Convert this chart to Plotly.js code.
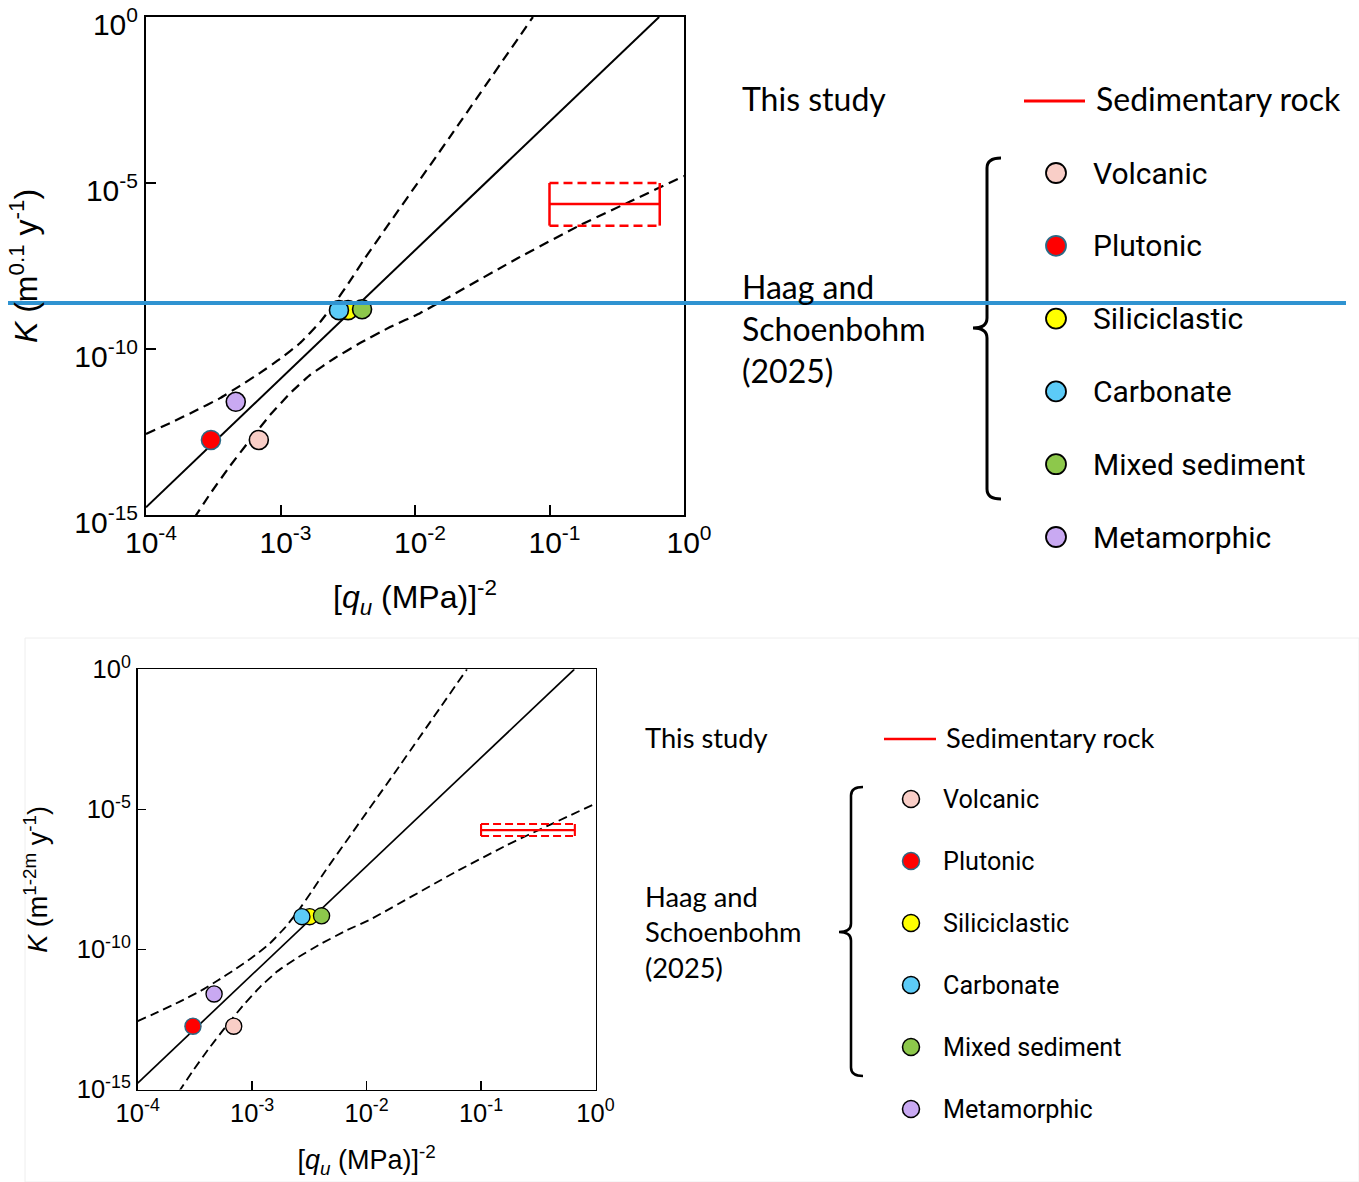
<!DOCTYPE html>
<html><head><meta charset="utf-8">
<script src="https://cdn.plot.ly/plotly-3.0.1.min.js"></script>
<style>html,body{margin:0;padding:0;background:#fff}</style>
</head><body><div id="chart" style="width:1359px;height:1182px"></div>
<script>
// ---------- data ----------
const rockTypes  = ['Volcanic','Plutonic','Siliciclastic','Carbonate','Mixed sediment','Metamorphic'];
const rockColors = ['#f9cec7','#ff0000','#ffff00','#5ccbf7','#8dc84b','#c9a9f2'];
const rockEdges  = ['#000000','#2b6a86','#000000','#000000','#000000','#000000'];
const quInvSq    = [6.9e-4, 3.04e-4, 3.18e-3, 2.72e-3, 4.04e-3, 4.65e-4];
const kValues    = [1.82e-13, 1.82e-13, 1.48e-9, 1.48e-9, 1.58e-9, 2.57e-12];

// regression line and its dashed confidence band
const fitX = [1e-4, 0.653];
const fitK = [1.7e-15, 1];
const upperX = [1e-4, 1.51e-4, 2.31e-4, 3.55e-4, 5.0e-4, 7.05e-4, 9.91e-4, 1.40e-3, 1.97e-3, 2.54e-3, 3.29e-3, 4.25e-3, 1.82e-2, 7.53e-2];
const upperK = [2.75e-13, 5.89e-13, 1.35e-12, 3.31e-12, 7.76e-12, 1.91e-11, 5.01e-11, 1.51e-10, 6.46e-10, 2.45e-9, 1.12e-8, 5.50e-8, 2.45e-4, 1];
const lowerX = [2.28e-4, 2.99e-4, 4.22e-4, 5.93e-4, 8.36e-4, 1.18e-3, 1.66e-3, 2.54e-3, 3.90e-3, 6.52e-3, 1.09e-2, 5.83e-2, 0.169, 0.377, 1.0];
const lowerK = [8.1e-16, 4.27e-15, 3.02e-14, 1.82e-13, 1.02e-12, 4.68e-12, 1.66e-11, 5.37e-11, 1.51e-10, 4.57e-10, 1.20e-9, 5.50e-8, 5.37e-7, 2.51e-6, 1.62e-5];

// This study – sedimentary rock range (top panel / bottom panel)
const boxX = [0.1, 0.66];
const boxTopMid = 2.34e-6, boxTopHi = 1.0e-5, boxTopLo = 5.2e-7;
const boxBotMid = 1.82e-6, boxBotHi = 3.0e-6, boxBotLo = 1.12e-6;

const xTickVals = [1e-4, 1e-3, 1e-2, 1e-1, 1];
const xTickText = ['10<sup>-4</sup>','10<sup>-3</sup>','10<sup>-2</sup>','10<sup>-1</sup>','10<sup>0</sup>'];
const yTickVals = [1e-15, 1e-10, 1e-5, 1];
const yTickText = ['10<sup>-15</sup>','10<sup>-10</sup>','10<sup>-5</sup>','10<sup>0</sup>'];

// ---------- helpers ----------
const W = 1359, H = 1182;
const px = x => x / W;
const py = y => 1 - y / H;
const P = (x, y) => px(x).toFixed(5) + ',' + py(y).toFixed(5);

function panelTraces(xa, ya, s, hi, mid, lo) {
  const tr = [];
  const dash = (Math.round(10*s)) + 'px,' + (Math.round(6*s)) + 'px';
  tr.push({x: upperX, y: upperK, xaxis: xa, yaxis: ya, mode: 'lines', line: {color: '#000', width: 2.2*s, dash: dash, shape: 'spline', smoothing: 0.3}, hoverinfo: 'skip'});
  tr.push({x: lowerX, y: lowerK, xaxis: xa, yaxis: ya, mode: 'lines', line: {color: '#000', width: 2.2*s, dash: dash, shape: 'spline', smoothing: 0.3}, hoverinfo: 'skip'});
  tr.push({x: fitX, y: fitK, xaxis: xa, yaxis: ya, mode: 'lines', line: {color: '#000', width: 2*s}, hoverinfo: 'skip'});
  // sedimentary rock box
  const rdash = (Math.round(9*s))+'px,'+(Math.round(5*s))+'px';
  tr.push({x: boxX, y: [hi, hi], xaxis: xa, yaxis: ya, mode: 'lines', line: {color: '#ff0000', width: 2.5*s, dash: rdash}, hoverinfo: 'skip'});
  tr.push({x: boxX, y: [lo, lo], xaxis: xa, yaxis: ya, mode: 'lines', line: {color: '#ff0000', width: 2.5*s, dash: rdash}, hoverinfo: 'skip'});
  tr.push({x: [boxX[0], boxX[0], null, boxX[1], boxX[1]], y: [lo, hi, null, lo, hi], xaxis: xa, yaxis: ya, mode: 'lines', line: {color: '#ff0000', width: 2.5*s}, hoverinfo: 'skip'});
  tr.push({x: boxX, y: [mid, mid], xaxis: xa, yaxis: ya, mode: 'lines', line: {color: '#ff0000', width: 2.5*s}, hoverinfo: 'skip'});
  // data points
  for (let i = 0; i < rockTypes.length; i++) {
    tr.push({x: [quInvSq[i]], y: [kValues[i]], xaxis: xa, yaxis: ya, mode: 'markers', name: rockTypes[i],
      marker: {size: 19*s, color: rockColors[i], line: {color: rockEdges[i], width: 1.6*s}}, hoverinfo: 'skip'});
  }
  return tr;
}

const data = [].concat(
  panelTraces('x', 'y', 1, boxTopHi, boxTopMid, boxTopLo),
  panelTraces('x2', 'y2', 0.85, boxBotHi, boxBotMid, boxBotLo)
);

const afont = 'Liberation Sans, Arial, sans-serif';
function axisX(domain, anchor, s, tfs, standoff) {
  return {type: 'log', range: [-4, 0], domain: domain, anchor: anchor,
    tickvals: xTickVals, ticktext: xTickText, ticks: 'inside', ticklen: 10*s, tickwidth: 2*s, tickcolor: '#000',
    showline: true, linewidth: 2*s, linecolor: '#000', mirror: true, showgrid: false, zeroline: false,
    tickfont: {size: 30*s, family: afont, color: '#000'}, ticklabelshift: 5*s, ticklabeloverflow: 'allow',
    title: {text: '[<i>q<sub>u</sub></i> (MPa)]<sup>-2</sup>', font: {size: tfs, family: afont, color: '#000'}, standoff: standoff},
    automargin: false, fixedrange: true};
}
function axisY(domain, anchor, s, title, tfs, standoff) {
  return {type: 'log', range: [-15, 0], domain: domain, anchor: anchor,
    tickvals: yTickVals, ticktext: yTickText, ticks: 'inside', ticklen: 10*s, tickwidth: 2*s, tickcolor: '#000',
    showline: true, linewidth: 2*s, linecolor: '#000', mirror: true, showgrid: false, zeroline: false,
    tickfont: {size: 30*s, family: afont, color: '#000'}, ticklabelshift: 7*s, ticklabeloverflow: 'allow',
    title: {text: title, font: {size: tfs, family: afont, color: '#000'}, standoff: standoff},
    automargin: false, fixedrange: true};
}

// ---------- custom legend ----------
const shapes = [];
const annotations = [];
const lfont = 'Lato, "Noto Sans", sans-serif';
const ifont = 'Roboto, "Noto Sans", sans-serif';

function legend(cfg) {
  const s = cfg.s;
  annotations.push({xref: 'paper', yref: 'paper', x: px(cfg.leftX), y: py(cfg.studyY), xanchor: 'left', yanchor: 'middle', showarrow: false,
    text: 'This study', font: {family: lfont, size: cfg.lfs, color: '#000'}});
  shapes.push({type: 'line', xref: 'paper', yref: 'paper', x0: px(cfg.redX0), x1: px(cfg.redX1), y0: py(cfg.studyY + 2), y1: py(cfg.studyY + 2), line: {color: '#ff0000', width: 3*s}});
  annotations.push({xref: 'paper', yref: 'paper', x: px(cfg.redX1 + 9*s), y: py(cfg.studyY), xanchor: 'left', yanchor: 'middle', showarrow: false,
    text: 'Sedimentary rock', font: {family: lfont, size: cfg.lfs, color: '#000'}});
  const hl = ['Haag and', 'Schoenbohm', '(2025)'];
  hl.forEach((t, k) => annotations.push({xref: 'paper', yref: 'paper', x: px(cfg.leftX), y: py(cfg.haagY + k*cfg.haagDy), xanchor: 'left', yanchor: 'middle', showarrow: false,
    text: t, font: {family: lfont, size: cfg.lfs, color: '#000'}}));
  // bracket
  const bx = cfg.brX, t = cfg.brTop, b = cfg.brBot, m = cfg.brMid, h = cfg.brHook, n = cfg.brNub, c = 10*s;
  const path = 'M' + P(bx + h, t) + ' Q' + P(bx, t) + ' ' + P(bx, t + c) +
    ' L' + P(bx, m - c) + ' Q' + P(bx, m) + ' ' + P(bx - n, m) +
    ' Q' + P(bx, m) + ' ' + P(bx, m + c) +
    ' L' + P(bx, b - c) + ' Q' + P(bx, b) + ' ' + P(bx + h, b);
  shapes.push({type: 'path', xref: 'paper', yref: 'paper', path: path, line: {color: '#000', width: 3*s}});
  for (let i = 0; i < rockTypes.length; i++) {
    const cy = cfg.itemY0 + i*cfg.itemDy, r = cfg.r;
    shapes.push({type: 'circle', xref: 'paper', yref: 'paper', x0: px(cfg.mkX - r), x1: px(cfg.mkX + r), y0: py(cy + r), y1: py(cy - r),
      fillcolor: rockColors[i], line: {color: rockEdges[i], width: 1.8*s}});
    annotations.push({xref: 'paper', yref: 'paper', x: px(cfg.labX), y: py(cy), xanchor: 'left', yanchor: 'middle', showarrow: false,
      text: rockTypes[i], font: {family: ifont, size: cfg.ifs, color: '#000'}});
  }
}

legend({s: 1, leftX: 740, studyY: 99, lfs: 32, redX0: 1024, redX1: 1085, haagY: 287, haagDy: 41.5,
  brX: 987, brTop: 158, brBot: 499, brMid: 328, brHook: 14, brNub: 14,
  itemY0: 173, itemDy: 72.8, r: 10, mkX: 1056, labX: 1091, ifs: 30});
legend({s: 0.85, leftX: 643, studyY: 737, lfs: 27.3, redX0: 884, redX1: 936, haagY: 896, haagDy: 35.5,
  brX: 851, brTop: 787, brBot: 1076, brMid: 932, brHook: 12, brNub: 12,
  itemY0: 799, itemDy: 62, r: 8.5, mkX: 911, labX: 941, ifs: 25.2});

// faint panel border of lower figure
shapes.push({type: 'rect', xref: 'paper', yref: 'paper', x0: px(25), x1: px(1359), y0: py(1182), y1: py(638), line: {color: '#eeeeee', width: 1}, layer: 'below'});
// blue horizontal line across the upper figure
shapes.push({type: 'line', xref: 'paper', yref: 'paper', x0: px(8), x1: px(1346), y0: py(303), y1: py(303), line: {color: '#2f93d1', width: 4}, layer: 'above'});

const layout = {
  width: W, height: H, margin: {l: 0, r: 0, t: 0, b: 0}, paper_bgcolor: '#fff', plot_bgcolor: '#fff',
  showlegend: false, hovermode: false,
  font: {family: afont, color: '#000'},
  xaxis:  axisX([px(146), px(684)], 'y', 1, 32, 28),
  yaxis:  axisY([py(515), py(17)], 'x', 1, '<i>K</i> (m<sup>0.1</sup> y<sup>-1</sup>)', 32, 27),
  xaxis2: axisX([px(137.7), px(595.5)], 'y2', 0.85, 27, 24),
  yaxis2: axisY([py(1089.5), py(669.3)], 'x2', 0.85, '<i>K</i> (m<sup>1-2m</sup> y<sup>-1</sup>)', 27, 21),
  shapes: shapes, annotations: annotations
};

Plotly.newPlot('chart', data, layout, {displayModeBar: false, staticPlot: true});
</script></body></html>
